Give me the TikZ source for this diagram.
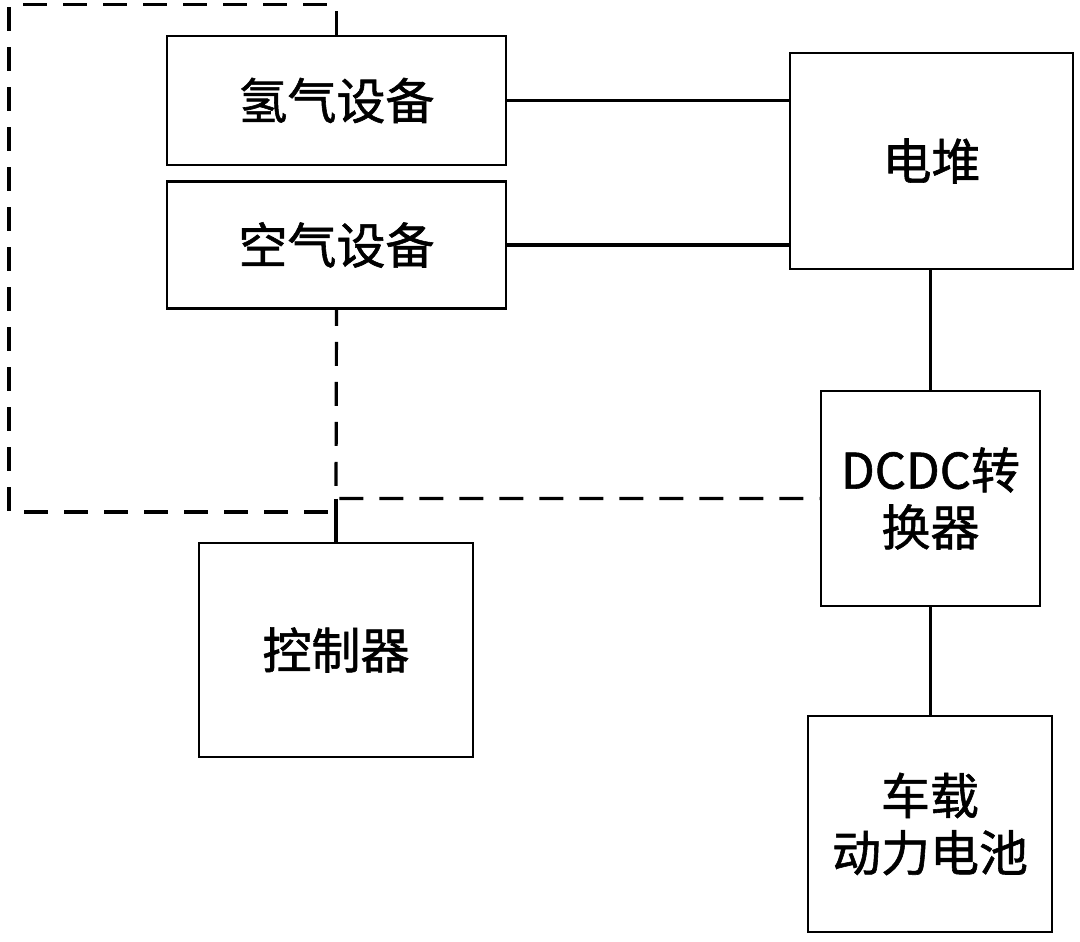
\documentclass[tikz,border=0pt]{standalone}
\usepackage{fontspec}
\setmainfont{Noto Sans CJK SC}
\newfontfamily\lblfont[FakeBold=1.2]{Noto Sans CJK SC}
\usepackage{tikz}
\usetikzlibrary{calc}
\tikzset{
  blk/.style  ={draw, line width=1.3pt, align=center, inner sep=0pt, font=\lblfont\fontsize{24.5}{28.5}\selectfont},
  wire/.style ={line width=1.9pt},
  ctrl/.style ={line width=1.6pt, dash pattern=on 12pt off 8pt},
}
\begin{document}
\begin{tikzpicture}[x=0.5pt, y=-0.5pt]
  \useasboundingbox (0,0) rectangle (1080,941);
  % gas supply and stack
  \node[blk, minimum width=169.5pt, minimum height=64.5pt] (h2) at (336.5,100.5) {氢气设备};
  \node[blk, minimum width=169.5pt, minimum height=63.5pt] (air) at (336.5,245) {空气设备};
  \node[blk, minimum width=141.5pt, minimum height=108pt] (stack) at (931.5,161) {电堆};
  % power path
  \node[blk, minimum width=109.5pt, minimum height=107.5pt] (dcdc) at (930.5,498.5) {DCDC转\\换器};
  \node[blk, minimum width=122pt, minimum height=108pt] (batt) at (930,824) {车载\\动力电池};
  \node[blk, minimum width=137pt, minimum height=107pt] (ctl) at (336,650) {控制器};
  \draw[wire] (h2.east) -- (h2.east -| stack.west);
  \draw[wire] (air.east) -- (air.east -| stack.west);
  \draw[wire] (stack.south -| dcdc.north) -- (dcdc.north);
  \draw[wire] (dcdc.south) -- (dcdc.south |- batt.north);
  % control signals
  \coordinate (tap) at (ctl.north |- dcdc.west);
  \draw[ctrl] (h2.north) -- ++(0,-30) -| (9,512) -- (ctl.north |- 0,512);
  \draw[ctrl, dash phase=4pt] (air.south) -- (tap) -- (dcdc.west);
  \draw[ctrl] (tap) -- ++(0,20);
  \draw[wire] ($(tap)+(0,20)$) -- (ctl.north);
\end{tikzpicture}
\end{document}
